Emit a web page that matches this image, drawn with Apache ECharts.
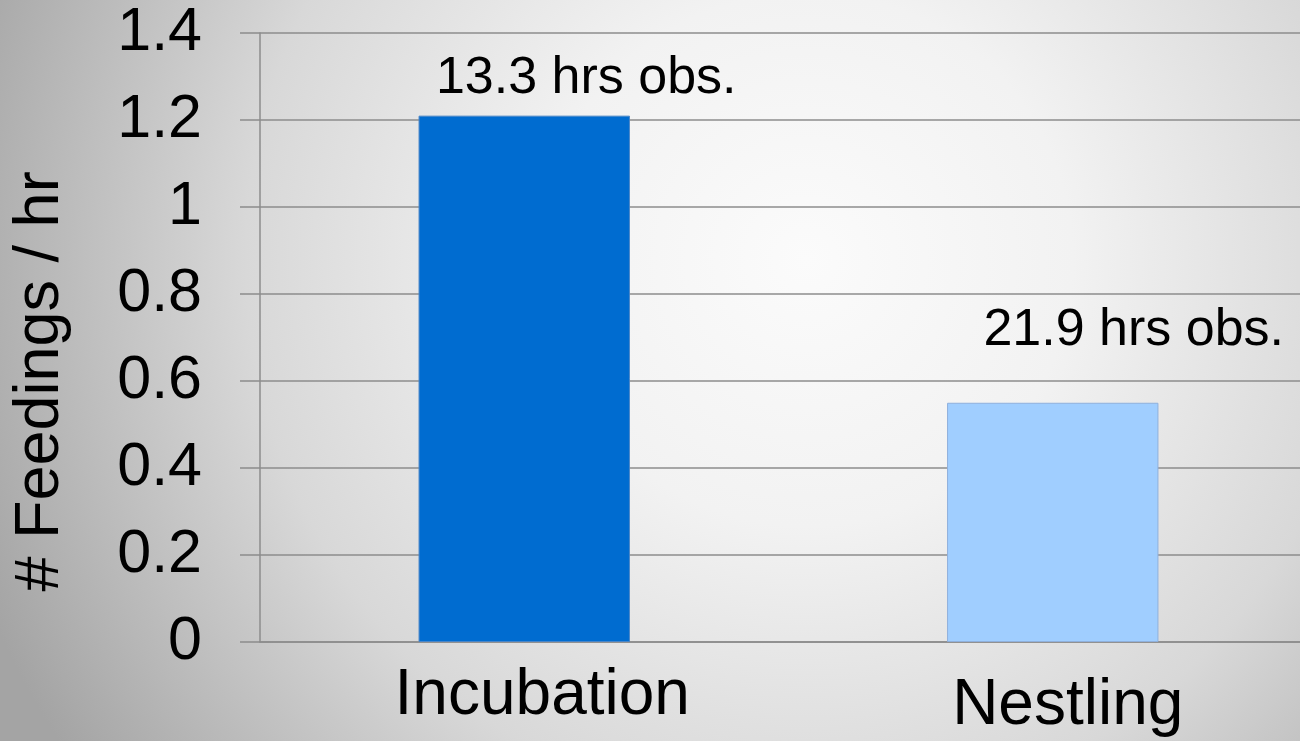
<!DOCTYPE html>
<html>
<head>
<meta charset="utf-8">
<script src="https://cdn.jsdelivr.net/npm/echarts@6/dist/echarts.min.js"></script>
<style>
  html, body { margin: 0; padding: 0; }
  #chart { width: 1300px; height: 741px; }
</style>
</head>
<body>
<div id="chart"></div>
<script>
// ---- data ----
const categories = ['Incubation', 'Nestling'];
const feedingsPerHour = [1.21, 0.55];
const obsLabels = ['13.3 hrs obs.', '21.9 hrs obs.'];
const yAxisTitle = '# Feedings / hr';

const FONT = "'Liberation Sans', Arial, sans-serif";
const barColors = ['#006cd0', '#a0ceff'];
const barBorders = ['#4a86c8', '#8fb0dc'];
const labelOffsets = [[62, -6], [81, -41]];

const chart = echarts.init(document.getElementById('chart'));
chart.setOption({
  animation: false,
  backgroundColor: {
    type: 'radial', x: 0.62, y: 0.35, r: 1.2,
    colorStops: [
      { offset: 0, color: '#fbfbfb' },
      { offset: 0.3, color: '#f2f2f2' },
      { offset: 0.63, color: '#d8d8d8' },
      { offset: 1, color: '#a4a4a4' }
    ]
  },
  grid: { left: 260, width: 1057, top: 33, bottom: 99, containLabel: false, outerBoundsMode: 'none' },
  xAxis: {
    type: 'category',
    data: categories,
    axisLine: { show: true, lineStyle: { color: '#8c8c8c', width: 1.5 } },
    axisTick: { show: false },
    axisLabel: {
      margin: 22,
      formatter: function (v) { return v === 'Incubation' ? '{a|' + v + '}' : '{b|' + v + '}'; },
      rich: {
        a: { fontFamily: FONT, fontSize: 64, color: '#000', lineHeight: 64, padding: [0, 0, 0, 36] },
        b: { fontFamily: FONT, fontSize: 64, color: '#000', lineHeight: 84, padding: [0, 0, 0, 30] }
      }
    }
  },
  yAxis: {
    type: 'value',
    min: 0, max: 1.4, interval: 0.2,
    name: yAxisTitle,
    nameLocation: 'middle',
    nameRotate: 90,
    nameGap: 188,
    nameTextStyle: { fontFamily: FONT, fontSize: 63, color: '#000', padding: [0, 88, 0, 0] },
    axisLine: { show: true, lineStyle: { color: '#8c8c8c', width: 1.5 } },
    axisTick: { show: true, inside: false, length: 20, lineStyle: { color: '#8c8c8c', width: 1.5 } },
    axisLabel: { margin: 58, fontFamily: FONT, fontSize: 61, color: '#000' },
    splitLine: { show: true, lineStyle: { color: '#8c8c8c', width: 1.5 } }
  },
  series: [{
    type: 'bar',
    barWidth: '40%',
    data: feedingsPerHour.map(function (v, i) {
      return {
        value: v,
        itemStyle: { color: barColors[i], borderColor: barBorders[i], borderWidth: 1 },
        label: {
          show: true,
          position: 'top',
          offset: labelOffsets[i],
          formatter: obsLabels[i],
          fontFamily: FONT,
          fontSize: 52,
          color: '#000'
        }
      };
    })
  }]
});
</script>
</body>
</html>
